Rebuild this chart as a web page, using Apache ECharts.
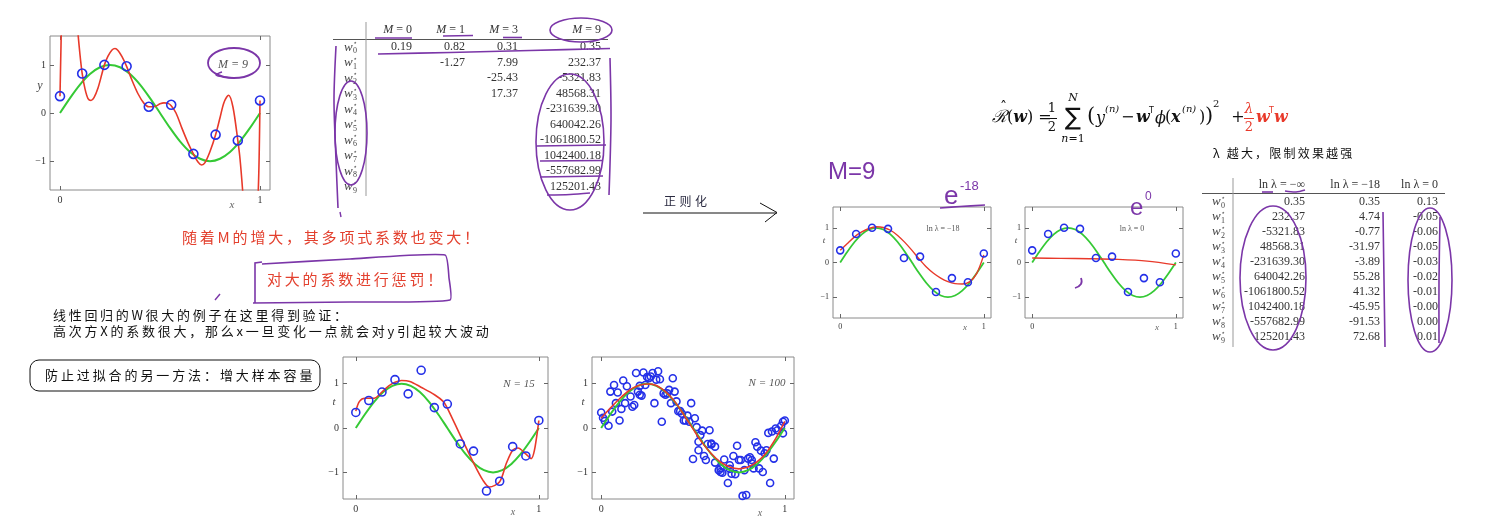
<!DOCTYPE html>
<html><head><meta charset="utf-8">
<script src="https://cdn.jsdelivr.net/npm/echarts@6.0.0/dist/echarts.min.js"></script>
<style>html,body{margin:0;padding:0;background:#fff;}#c{width:1487px;height:529px;}</style>
</head><body><div id="c"></div>
<script>
// ================= DATA =================
// true curve sin(2πx)
const sineX = [0,0.05,0.1,0.15,0.2,0.25,0.3,0.35,0.4,0.45,0.5,0.55,0.6,0.65,0.7,0.75,0.8,0.85,0.9,0.95,1];
const sineY = [0,0.31,0.59,0.81,0.95,1,0.95,0.81,0.59,0.31,0,-0.31,-0.59,-0.81,-0.95,-1,-0.95,-0.81,-0.59,-0.31,0];
// 10-point training set
const x10 = [0,0.111,0.222,0.333,0.444,0.556,0.667,0.778,0.889,1];
const t10 = [0.35,0.82,1.0,0.97,0.13,0.17,-0.85,-0.45,-0.57,0.26];
// M=9 fit (no regularisation)
const fitM9X = [0,0.005,0.01,0.03,0.05,0.07,0.085,0.1,0.111,0.125,0.14,0.155,0.17,0.19,0.21,0.222,0.24,0.26,0.275,0.29,0.31,0.333,0.36,0.39,0.42,0.444,0.47,0.5,0.52,0.54,0.556,0.58,0.61,0.64,0.667,0.69,0.708,0.725,0.75,0.778,0.8,0.82,0.843,0.865,0.889,0.9,0.913,0.93,0.96,0.98,0.993,1.0];
const fitM9Y = [0.35,1.4,2.2,3.4,3.5,2.8,1.9,1.21,0.82,0.5,0.3,0.26,0.32,0.52,0.82,1.0,1.18,1.31,1.34,1.3,1.17,0.97,0.68,0.4,0.2,0.13,0.13,0.19,0.21,0.2,0.15,0.0,-0.32,-0.62,-0.85,-1.02,-1.08,-1.03,-0.8,-0.45,-0.1,0.22,0.37,0.12,-0.57,-0.95,-1.6,-2.6,-3.4,-2.6,-1.4,0.26];
// N=15
const x15 = [0,0.071,0.143,0.214,0.286,0.357,0.429,0.5,0.571,0.643,0.714,0.786,0.857,0.929,1];
const t15 = [0.35,0.62,0.81,1.09,0.77,1.30,0.46,0.54,-0.36,-0.52,-1.42,-1.2,-0.42,-0.63,0.17];
const fit15X = [0,0.02,0.05,0.1,0.14,0.18,0.214,0.25,0.295,0.356,0.43,0.477,0.5,0.57,0.64,0.695,0.73,0.786,0.822,0.857,0.886,0.93,0.958,0.976,1];
const fit15Y = [0.38,0.6,0.67,0.67,0.8,0.95,1.03,1.07,1.05,0.92,0.75,0.6,0.45,-0.16,-0.76,-1.18,-1.33,-1.21,-0.8,-0.5,-0.45,-0.59,-0.69,-0.5,0.17];
// N=100
const x100 = [0,0.01,0.02,0.04,0.06,0.05,0.07,0.09,0.08,0.10,0.11,0.12,0.13,0.14,0.16,0.17,0.18,0.19,0.20,0.21,0.21,0.22,0.23,0.24,0.25,0.26,0.27,0.28,0.29,0.30,0.31,0.32,0.33,0.34,0.35,0.36,0.37,0.38,0.39,0.40,0.41,0.42,0.43,0.44,0.45,0.46,0.47,0.48,0.49,0.50,0.51,0.52,0.53,0.53,0.54,0.55,0.56,0.57,0.58,0.59,0.60,0.60,0.62,0.62,0.64,0.65,0.65,0.66,0.67,0.69,0.70,0.70,0.71,0.72,0.73,0.74,0.75,0.76,0.77,0.78,0.79,0.80,0.81,0.82,0.82,0.83,0.84,0.85,0.86,0.87,0.88,0.89,0.90,0.91,0.92,0.93,0.94,0.95,0.96,0.98,0.99,0.99,1.00];
const t100 = [0.35,0.23,0.16,0.05,0.37,0.82,0.97,0.80,0.56,0.17,0.43,1.07,0.56,0.94,0.71,0.48,0.52,1.24,0.82,0.95,0.75,0.73,1.25,0.97,1.15,1.12,1.16,1.24,0.56,1.09,1.28,1.10,0.14,0.78,0.75,0.78,0.86,0.56,1.12,0.82,0.60,0.38,0.38,0.32,0.17,0.17,0.28,0.14,0.56,-0.70,0.22,0.02,-0.31,-0.50,-0.16,-0.06,-0.63,-0.72,-0.36,-0.05,-0.35,-0.37,-0.78,-0.42,-0.95,-0.99,-0.91,-1.01,-0.71,-1.24,-0.84,-0.92,-1.03,-0.63,-1.04,-0.40,-0.72,-0.72,-1.53,-0.95,-1.51,-0.69,-0.66,-0.80,-0.72,-0.91,-0.32,-0.42,-0.91,-0.51,-0.99,-0.57,-0.50,-0.11,-1.24,-0.08,-0.69,-0.01,-0.05,0.05,0.14,-0.12,0.17];
const fit100Y = [0.22,0.45,0.66,0.84,0.95,0.99,0.96,0.82,0.6,0.3,-0.02,-0.33,-0.58,-0.77,-0.88,-0.92,-0.88,-0.76,-0.55,-0.24,0.15];
// regularised fits (M=9)
const fitL18Y = [0.35,0.55,0.74,0.88,0.98,1.03,1.01,0.93,0.78,0.58,0.35,0.1,-0.13,-0.31,-0.45,-0.55,-0.61,-0.62,-0.56,-0.32,0.22];
const fitL0X = [0,0.2,0.4,0.6,0.8,1];
const fitL0Y = [0.13,0.12,0.11,0.09,0.04,-0.07];
// axis tick values
const xTicks = [0,1];
const yTicks = [-1,0,1];
// coefficient tables
const coefLabels = [0,1,2,3,4,5,6,7,8,9];
const topHeads = ['0','1','3','9'];
const colM0 = [0.19];
const colM1 = [0.82,-1.27];
const colM3 = [0.31,7.99,-25.43,17.37];
const colM9 = [0.35,232.37,-5321.83,48568.31,-231639.30,640042.26,-1061800.52,1042400.18,-557682.99,125201.43];
const lamHeads = ['ln λ = −∞','ln λ = −18','ln λ = 0'];
const colLInf = [0.35,232.37,-5321.83,48568.31,-231639.30,640042.26,-1061800.52,1042400.18,-557682.99,125201.43];
const colL18 = [0.35,4.74,-0.77,-31.97,-3.89,55.28,41.32,-45.95,-91.53,72.68];
const colL0 = [0.13,-0.05,-0.06,-0.05,-0.03,-0.02,-0.01,-0,0.00,0.01];

// ================= CHART =================
const chart = echarts.init(document.getElementById('c'), null, {renderer:'canvas'});
const SERIF = '"Liberation Serif","DejaVu Serif",serif';
const CJK = '"Noto Sans CJK SC",sans-serif';
const GREEN = '#35c935', RED = '#e8392a', BLUE = '#2430e8', PURPLE = '#7b36a8';

const panels = [
  {left:50, top:36, width:220, height:154, xmin:-0.05, xmax:1.05, fs:10},
  {left:343, top:357, width:205, height:142, xmin:-0.07, xmax:1.05, fs:10},
  {left:592, top:357, width:202, height:142, xmin:-0.05, xmax:1.05, fs:10},
  {left:833, top:207, width:158, height:111, xmin:-0.05, xmax:1.05, fs:8},
  {left:1025, top:207, width:158, height:111, xmin:-0.05, xmax:1.05, fs:8}
];
const grids = [], xAxes = [], yAxes = [];
function ax(gi, min, max, vals, pos, isX, fs, showLabel) {
  return {gridIndex:gi, type:'value', min, max, position:pos,
    axisLine:{show:false, onZero:false}, splitLine:{show:false},
    axisTick:{show:true, inside:true, length:4, customValues:vals, lineStyle:{color:'#666', width:1}},
    axisLabel:{show:showLabel, customValues:vals, fontFamily:SERIF, fontSize:fs, color:'#333', margin:isX?5:4,
      formatter:v => (v < 0 ? '−' : '') + Math.abs(v)}};
}
panels.forEach((p, i) => {
  grids.push({left:p.left, top:p.top, width:p.width, height:p.height, show:true, borderColor:'#8a8a8a', borderWidth:1});
  xAxes.push(ax(i, p.xmin, p.xmax, xTicks, 'bottom', true, p.fs, true));
  xAxes.push(ax(i, p.xmin, p.xmax, xTicks, 'top', true, p.fs, false));
  yAxes.push(ax(i, -1.6, 1.6, yTicks, 'left', false, p.fs, true));
  yAxes.push(ax(i, -1.6, 1.6, yTicks, 'right', false, p.fs, false));
});
const zip = (a, b) => a.map((v, k) => [v, b[k]]);
function lineS(i, xs, ys, color, w, z) {
  return {type:'line', xAxisIndex:2*i, yAxisIndex:2*i, data:zip(xs, ys), showSymbol:false, smooth:0.3,
    lineStyle:{color, width:w}, z:z||2, silent:true, clip:true};
}
function scatS(i, xs, ys, size, z) {
  return {type:'scatter', xAxisIndex:2*i, yAxisIndex:2*i, data:zip(xs, ys), symbol:'circle', symbolSize:size,
    itemStyle:{color:'rgba(0,0,0,0)', borderColor:BLUE, borderWidth:1.6, opacity:1}, z:z||3, silent:true};
}
const series = [
  lineS(0, sineX, sineY, GREEN, 2), lineS(0, fitM9X, fitM9Y, RED, 1.6), scatS(0, x10, t10, 9),
  lineS(1, sineX, sineY, GREEN, 2), lineS(1, fit15X, fit15Y, RED, 1.6), scatS(1, x15, t15, 8),
  scatS(2, x100, t100, 7, 1), lineS(2, sineX, sineY, GREEN, 2, 2), lineS(2, sineX, fit100Y, RED, 1.6, 3),
  lineS(3, sineX, sineY, GREEN, 1.8), lineS(3, sineX, fitL18Y, RED, 1.4), scatS(3, x10, t10, 7),
  lineS(4, sineX, sineY, GREEN, 1.8), lineS(4, fitL0X, fitL0Y, RED, 1.4), scatS(4, x10, t10, 7)
];

// ================= GRAPHIC (text, tables, annotations) =================
const g = [];
const mctx = document.createElement('canvas').getContext('2d');
function T(x, y, text, font, fill, align, valign, rich) {
  const st = {text, font, fill:fill || '#333', textAlign:align || 'left', align:align || 'left',
    textVerticalAlign:valign || 'middle', verticalAlign:valign || 'middle'};
  if (rich) st.rich = rich;
  g.push({type:'text', x, y, silent:true, z:50, style:st});
}
function spaced(str, x, y, size, fam, fill, spacing) {
  const font = size + 'px ' + fam;
  mctx.font = font;
  let cx = x;
  for (const ch of str) {
    T(cx, y, ch, font, fill, 'left', 'middle');
    cx += mctx.measureText(ch).width + spacing;
  }
}
function L(x1, y1, x2, y2, stroke, w) {
  g.push({type:'line', silent:true, z:50, shape:{x1, y1, x2, y2}, style:{stroke, lineWidth:w || 1}});
}
function P(points, stroke, w, smooth) {
  g.push({type:'polyline', silent:true, z:50, shape:{points, smooth:smooth || 0}, style:{stroke, lineWidth:w || 1.6, fill:null}});
}
function E(cx, cy, rx, ry, stroke, w) {
  g.push({type:'ellipse', silent:true, z:50, shape:{cx, cy, rx, ry}, style:{stroke, lineWidth:w || 1.6, fill:null}});
}
const fmt = v => (Object.is(v, -0) ? '-0.00' : v.toFixed(2));

// ----- panel labels -----
const it = s => 'italic ' + s + 'px ' + SERIF;
T(40, 86, 'y', it(12), '#444', 'center');
T(232, 205, 'x', it(11), '#666', 'center');
T(233, 65, 'M = 9', it(12), '#555', 'center');
T(334, 402, 't', it(11), '#444', 'center');
T(513, 512, 'x', it(10), '#666', 'center');
T(519, 384, 'N = 15', it(11), '#555', 'center');
T(583, 402, 't', it(11), '#444', 'center');
T(760, 513, 'x', it(10), '#666', 'center');
T(767, 383, 'N = 100', it(11), '#555', 'center');
T(824, 241, 't', it(9), '#444', 'center');
T(965, 328, 'x', it(9), '#666', 'center');
T(943, 229, 'ln λ = −18', '8px ' + SERIF, '#555', 'center');
T(1016, 241, 't', it(9), '#444', 'center');
T(1157, 328, 'x', it(9), '#666', 'center');
T(1132, 229, 'ln λ = 0', '8px ' + SERIF, '#555', 'center');

// ----- coefficient tables -----
function rowLabel(x, y, k) {
  T(x - 6, y, 'w', it(13), '#444', 'left');
  T(x + 3, y - 4, '⋆', '7px "DejaVu Sans"', '#444', 'left');
  T(x + 3, y + 4, String(k), '8px ' + SERIF, '#444', 'left');
}
const rich12 = {i:{font:it(12), fill:'#333'}, n:{font:'12px ' + SERIF, fill:'#333'}};
// top table
const topCols = [colM0, colM1, colM3, colM9];
const topRight = [412, 465, 518, 601];
topHeads.forEach((h, c) => T(topRight[c], 30, '{i|M}{n| = ' + h + '}', '12px ' + SERIF, '#333', 'right', 'middle', rich12));
L(333, 39.5, 608, 39.5, '#555', 1);
L(366, 22, 366, 196, '#999', 1);
coefLabels.forEach(k => rowLabel(350, 47.3 + k * 15.5, k));
topCols.forEach((col, c) => col.forEach((v, r) => T(topRight[c], 47.3 + r * 15.5, fmt(v), '12px ' + SERIF, '#333', 'right')));
// right table
const lamCols = [colLInf, colL18, colL0];
const lamRight = [1305, 1380, 1438];
lamHeads.forEach((h, c) => T(lamRight[c], 185, h, '12px ' + SERIF, '#333', 'right'));
L(1202, 193.5, 1445, 193.5, '#555', 1);
L(1233, 178, 1233, 347, '#999', 1);
coefLabels.forEach(k => rowLabel(1218, 201.7 + k * 15, k));
lamCols.forEach((col, c) => col.forEach((v, r) => T(lamRight[c], 201.7 + r * 15, fmt(v), '12px ' + SERIF, '#333', 'right')));

// ----- Chinese notes -----
const REDTXT = '#e3412f';
spaced('随着M的增大，其多项式系数也变大！', 182, 237, 15, CJK, REDTXT, 2.8);
spaced('对大的系数进行惩罚！', 267, 279, 15, CJK, REDTXT, 2.8);
spaced('线性回归的W很大的例子在这里得到验证：', 53, 315, 13, CJK, '#111', 2.7);
spaced('高次方X的系数很大，那么x一旦变化一点就会对y引起较大波动', 53, 331, 13, CJK, '#111', 2.75);
g.push({type:'rect', silent:true, z:50, shape:{x:30, y:360, width:290, height:31, r:9}, style:{stroke:'#111', lineWidth:1, fill:null}});
spaced('防止过拟合的另一方法：增大样本容量', 45, 375, 13, CJK, '#111', 2.9);
spaced('正则化', 664, 201, 12, CJK, '#2a2a40', 3.5);
L(643, 213, 777, 213, '#111', 1);
P([[760, 203], [777, 212.5], [765, 222]], '#111', 1);
spaced('λ 越大，限制效果越强', 1213, 153, 12, CJK, '#111', 2.2);

// ----- formula -----
const F = '"DejaVu Serif",serif';
const FB = '#111';
T(992, 118, 'ℛ', 'italic 17px ' + F, FB);
T(1000, 108, 'ˆ', '14px ' + F, FB);
T(1007, 118, '{n|(}{b|w}{n|) =}', '16px ' + F, FB, 'left', 'middle',
  {n:{font:'16px ' + F, fill:FB}, b:{font:'bold italic 16px ' + F, fill:FB}});
T(1052, 109, '1', '13px ' + F, FB, 'center');
L(1047, 118.5, 1057, 118.5, FB, 1);
T(1052, 128, '2', '13px ' + F, FB, 'center');
T(1073, 119, '∑', '24px "DejaVu Sans"', FB, 'center');
T(1073, 98, 'N', 'italic 11px ' + F, FB, 'center');
T(1073, 139, '{i|n}{n|=1}', '11px ' + F, FB, 'center', 'middle', {i:{font:'italic 11px ' + F, fill:FB}, n:{font:'11px ' + F, fill:FB}});
T(1087, 117, '(', '21px ' + F, FB);
T(1096, 119, 'y', 'italic 16px ' + F, FB);
T(1105, 109, '(n)', 'italic 10px ' + F, FB);
T(1121, 118, '−', '16px ' + F, FB);
T(1136, 118, 'w', 'bold italic 16px ' + F, FB);
T(1149, 111, 'T', '8px "DejaVu Sans"', FB);
T(1155, 119, 'ϕ', 'italic 16px ' + F, FB);
T(1165, 118, '(', '16px ' + F, FB);
T(1171, 118, 'x', 'bold italic 16px ' + F, FB);
T(1182, 109, '(n)', 'italic 10px ' + F, FB);
T(1199, 118, ')', '16px ' + F, FB);
T(1205, 117, ')', '21px ' + F, FB);
T(1213, 104, '2', '10px ' + F, FB);
T(1238, 118, '+', '16px ' + F, FB, 'center');
T(1249, 109, 'λ', 'italic 14px ' + F, RED, 'center');
L(1244, 118.5, 1254, 118.5, RED, 1);
T(1249, 128, '2', '13px ' + F, RED, 'center');
T(1256, 118, 'w', 'bold italic 16px ' + F, RED);
T(1269, 111, 'T', '8px "DejaVu Sans"', RED);
T(1274, 118, 'w', 'bold italic 16px ' + F, RED);

// ----- purple hand annotations -----
E(234, 63, 26, 15, PURPLE, 1.8);
P([[222, 72], [216, 75], [224, 77], [234, 78]], PURPLE, 1.4, 0.4);
P([[375, 38], [412, 38]], PURPLE, 1.6);
P([[443, 36], [473, 35.5]], PURPLE, 1.6);
P([[503, 37.5], [522, 37.5]], PURPLE, 1.6);
E(581, 30, 31, 12, PURPLE, 1.6);
P([[378, 54], [450, 52.5], [530, 50.5], [610, 48.5]], PURPLE, 1.6, 0.3);
P([[336, 46], [334, 100], [336, 160], [338, 208]], PURPLE, 1.6, 0.3);
E(351, 133, 16, 52, PURPLE, 1.6);
P([[610, 58], [611, 120], [609, 195]], PURPLE, 1.6, 0.3);
E(570, 142, 34, 68, PURPLE, 1.6);
P([[537, 146], [606, 145]], PURPLE, 1.6);
P([[540, 161], [603, 160.5]], PURPLE, 1.6);
P([[540, 177], [603, 176]], PURPLE, 1.6);
P([[547, 195], [570, 194.5], [590, 193]], PURPLE, 1.6, 0.3);
P([[262, 264], [350, 259], [445, 255], [449, 278], [450, 300], [350, 302], [253, 303]], PURPLE, 1.6, 0.15);
P([[262, 262], [255, 263], [255, 303]], PURPLE, 1.6);
P([[215, 300], [220, 294]], PURPLE, 1.4);
P([[340, 212], [341, 217]], PURPLE, 1.4);
P([[1262, 192], [1273, 192]], PURPLE, 1.6);
P([[1285, 191], [1296, 192], [1305, 190]], PURPLE, 1.6, 0.3);
E(1273, 278, 33, 72, PURPLE, 1.6);
P([[1383, 212], [1384, 280], [1385, 347]], PURPLE, 1.6, 0.3);
E(1430, 280, 22, 72, PURPLE, 1.6);
P([[1440, 217], [1439, 280], [1439, 343]], PURPLE, 1.6, 0.3);
P([[1081, 278], [1081, 284], [1075, 288]], PURPLE, 1.8, 0.5);
const HW = '"Liberation Sans",sans-serif';
T(828, 172, 'M=9', '24px ' + HW, PURPLE);
T(944, 197, 'e', '26px ' + HW, PURPLE);
T(960, 186, '-18', '13px ' + HW, PURPLE);
P([[940, 208], [960, 206.5], [985, 205]], PURPLE, 1.6, 0.3);
T(1130, 208, 'e', '24px ' + HW, PURPLE);
T(1145, 197, '0', '12px ' + HW, PURPLE);

chart.setOption({
  animation:false,
  backgroundColor:'#ffffff',
  grid:grids, xAxis:xAxes, yAxis:yAxes, series,
  graphic:{elements:g}
});
</script></body></html>
